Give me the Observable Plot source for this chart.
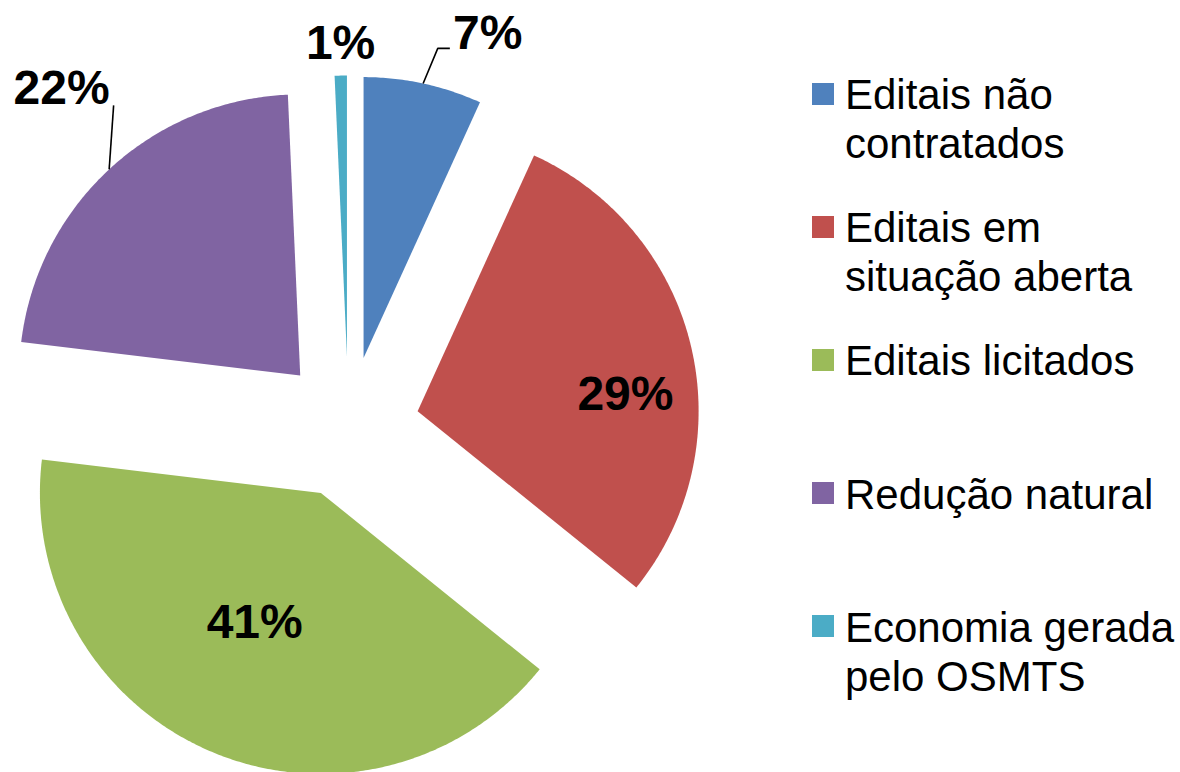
<!DOCTYPE html>
<html>
<head>
<meta charset="utf-8">
<script src="https://cdn.jsdelivr.net/npm/d3@7"></script>
<script src="https://cdn.jsdelivr.net/npm/@observablehq/plot@0.6"></script>
<style>
  html, body { margin: 0; padding: 0; background: #fff; }
  #wrap { position: relative; width: 1180px; height: 772px; overflow: hidden; font-family: "Liberation Sans", Arial, sans-serif; }
  #chart { position: absolute; left: 0; top: 0; }
  #legend { position: absolute; left: 812px; top: 70px; width: 368px; }
  .item { display: flex; align-items: flex-start; height: 133.2px; }
  .sw { width: 22px; height: 22px; flex: none; margin-top: 12.5px; }
  .lab { margin-left: 11px; font-size: 42px; line-height: 49px; color: #000; width: 330px; }
</style>
</head>
<body>
<div id="wrap">
  <div id="chart"></div>
  <div id="legend"></div>
</div>
<script>
// ---- data ----
const categories = ["Editais não contratados", "Editais em situação aberta", "Editais licitados", "Redução natural", "Economia gerada pelo OSMTS"];
const shares = [6.8, 29.0, 41.1, 22.4, 0.7];

// ---- style / layout ----
const colors = ["#4F81BD", "#C0504D", "#9BBB59", "#8064A2", "#4BACC6"];
const W = 800, H = 772, R_PX = 281, CX = 348, CY = 427;
const EXPLODE = 0.2527;
// label placement relative to each exploded slice: radius (in pie radii), angular turn from mid-angle (deg)
const labelLayout = [
  {r: 1.237, turn: 8.7, leader: [[-0.178, -0.053], [-0.135, -0.053]]},
  {r: 0.742, turn: 8.7, leader: null},
  {r: 0.518, turn: 4.2, leader: null},
  {r: 1.328, turn: 3.1, leader: [[0.185, -0.060]]},
  {r: 1.114, turn: 0.1, leader: null}
];

const rad = d => d * Math.PI / 180;
const polar = (r, deg) => [r * Math.sin(rad(deg)), r * Math.cos(rad(deg))];

const total = d3.sum(shares);
let acc = 0;
const slices = shares.map((v, i) => {
  const a0 = acc / total * 360; acc += v; const a1 = acc / total * 360;
  const mid = (a0 + a1) / 2;
  const [ox, oy] = polar(EXPLODE, mid);
  const poly = [{x: ox, y: oy}];
  const n = Math.max(2, Math.ceil((a1 - a0) * 2));
  for (let k = 0; k <= n; k++) {
    const [px, py] = polar(1, a0 + (a1 - a0) * k / n);
    poly.push({x: ox + px, y: oy + py});
  }
  poly.push({x: ox, y: oy});
  const L = labelLayout[i];
  const [lx, ly] = polar(L.r, mid + L.turn);
  const label = {x: ox + lx, y: oy + ly, text: Math.round(v) + "%"};
  let leader = null;
  if (L.leader) {
    const [sx, sy] = polar(1, mid);
    leader = [{x: ox + sx, y: oy + sy}].concat(L.leader.map(([dx, dy]) => ({x: label.x + dx, y: label.y + dy})));
  }
  return {i, name: categories[i], v, a0, a1, mid, poly, label, leader, color: colors[i]};
});

const marks = [];
slices.forEach(s => {
  marks.push(Plot.line(s.poly, {x: "x", y: "y", fill: s.color, stroke: "none", curve: "linear"}));
});
slices.filter(s => s.leader).forEach(s => {
  marks.push(Plot.line(s.leader, {x: "x", y: "y", stroke: "#000", strokeWidth: 1.6, strokeLinecap: "butt", strokeLinejoin: "miter"}));
});
marks.push(Plot.text(slices.map(s => s.label), {
  x: "x", y: "y", text: "text", fontSize: 48, fontWeight: "bold",
  fontFamily: "Liberation Sans, Arial, sans-serif", fill: "#000"
}));

const chart = Plot.plot({
  width: W, height: H, margin: 0,
  x: {domain: [-CX / R_PX, (W - CX) / R_PX], axis: null},
  y: {domain: [-(H - CY) / R_PX, CY / R_PX], axis: null},
  style: {background: "transparent", overflow: "visible"},
  marks
});
document.getElementById("chart").appendChild(chart);

const legend = document.getElementById("legend");
categories.forEach((c, i) => {
  const item = document.createElement("div"); item.className = "item";
  const sw = document.createElement("div"); sw.className = "sw"; sw.style.background = colors[i];
  const lab = document.createElement("div"); lab.className = "lab"; lab.textContent = c;
  item.appendChild(sw); item.appendChild(lab);
  legend.appendChild(item);
});
</script>
</body>
</html>
